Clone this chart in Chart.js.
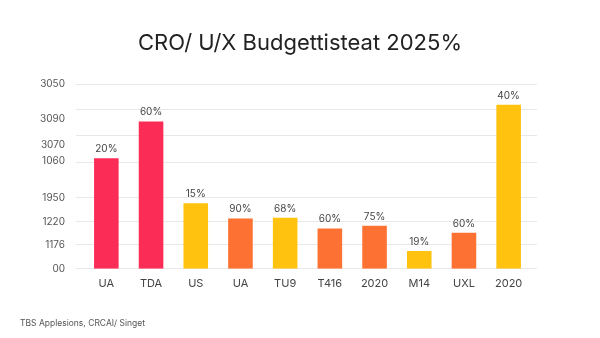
<!DOCTYPE html>
<html>
<head>
<meta charset="utf-8">
<script src="https://cdn.jsdelivr.net/npm/chart.js@4"></script>
<style>
  html, body { margin: 0; padding: 0; background: #ffffff; }
  #wrap { width: 600px; height: 338px; position: relative; }
</style>
</head>
<body>
<div id="wrap"><canvas id="budgetChart"></canvas></div>
<script>
// chart data
const categories = ['UA', 'TDA', 'US', 'UA', 'TU9', 'T416', '2020', 'M14', 'UXL', '2020'];
const budgetValues = [59.9, 79.9, 35.5, 27.3, 27.7, 21.9, 23.4, 9.6, 19.6, 89.0];
const percentLabels = ['20%', '60%', '15%', '90%', '68%', '60%', '75%', '19%', '60%', '40%'];
const colorGroups = ['red', 'red', 'yellow', 'orange', 'yellow', 'orange', 'orange', 'yellow', 'orange', 'yellow'];

// y axis: label text and where it sits, gridlines at slightly different spots
const yTickLabels = ['3050', '3090', '3070', '1060', '1950', '1220', '1176', '00'];
const yLabelValues = [100, 81.5, 67.4, 58.2, 38.6, 25.5, 13.0, 0];
const yGridValues = [100, 86.4, 72.3, 57.6, 38.6, 25.5, 13.0, 0];

const titleText = 'CRO/ U/X Budgettisteat 2025%';
const sourceText = 'TBS Applesions, CRCAI/ Singet';

const palette = { red: '#fb2d57', yellow: '#ffc20f', orange: '#fd7232' };
const gridColor = '#e8e8e8';

// percent labels above each bar
const barLabels = {
    id: 'barLabels',
    afterDatasetsDraw(chart) {
        const ctx = chart.ctx;
        const meta = chart.getDatasetMeta(0);
        ctx.save();
        ctx.font = '10px Inter, "Noto Sans", sans-serif';
        ctx.fillStyle = '#444';
        ctx.textAlign = 'center';
        ctx.textBaseline = 'bottom';
        meta.data.forEach((bar, i) => {
            ctx.fillText(percentLabels[i], bar.x, bar.y - 4);
        });
        ctx.restore();
    }
};

// source note in the bottom left corner
const sourceNote = {
    id: 'sourceNote',
    afterDraw(chart) {
        const ctx = chart.ctx;
        ctx.save();
        ctx.font = '8.5px Inter, "Noto Sans", sans-serif';
        ctx.fillStyle = '#555';
        ctx.textAlign = 'left';
        ctx.textBaseline = 'middle';
        ctx.fillText(sourceText, 20, 323);
        ctx.restore();
    }
};

function fixedTicks(values) {
    return function(scale) {
        scale.ticks = values.map(v => ({ value: v }));
    };
}

const ctx = document.getElementById('budgetChart').getContext('2d');
const budgetChart = new Chart(ctx, {
    type: 'bar',
    data: {
        labels: categories,
        datasets: [{
            label: 'Budget',
            data: budgetValues,
            backgroundColor: colorGroups.map(c => palette[c]),
            borderWidth: 0,
            barPercentage: 0.55,
            categoryPercentage: 1
        }]
    },
    options: {
        responsive: true,
        maintainAspectRatio: false,
        animation: false,
        layout: {
            padding: { top: 30, left: 0, right: 0, bottom: 48 }
        },
        plugins: {
            legend: { display: false },
            tooltip: { enabled: false },
            title: {
                display: true,
                text: titleText,
                color: '#222',
                font: { family: 'Inter, "Noto Sans", sans-serif', size: 22, weight: 'normal' },
                padding: { top: 0, bottom: 28 }
            }
        },
        scales: {
            x: {
                grid: { display: false },
                border: { display: false },
                ticks: {
                    color: '#444',
                    padding: 0,
                    font: { family: 'Inter, "Noto Sans", sans-serif', size: 11 }
                }
            },
            y: {
                position: 'left',
                weight: 1,
                min: 0,
                max: 100,
                afterBuildTicks: fixedTicks(yLabelValues),
                afterFit: function(scale) { scale.width = 84; },
                grid: { display: false },
                border: { display: false },
                ticks: {
                    color: '#555',
                    padding: 11,
                    font: { family: 'Inter, "Noto Sans", sans-serif', size: 10 },
                    callback: function(value, index) { return yTickLabels[index]; }
                }
            },
            yGrid: {
                position: 'left',
                weight: 0,
                min: 0,
                max: 100,
                afterBuildTicks: fixedTicks(yGridValues),
                afterFit: function(scale) { scale.width = 0; },
                grid: { color: gridColor, drawTicks: true, tickLength: 8 },
                border: { display: false },
                ticks: { display: false }
            },
            yRight: {
                position: 'right',
                min: 0,
                max: 100,
                afterBuildTicks: fixedTicks(yGridValues),
                afterFit: function(scale) { scale.width = 69; },
                grid: { color: gridColor, drawOnChartArea: false, drawTicks: true, tickLength: 6 },
                border: { display: false },
                ticks: { display: false }
            }
        }
    },
    plugins: [barLabels, sourceNote]
});
</script>
</body>
</html>
